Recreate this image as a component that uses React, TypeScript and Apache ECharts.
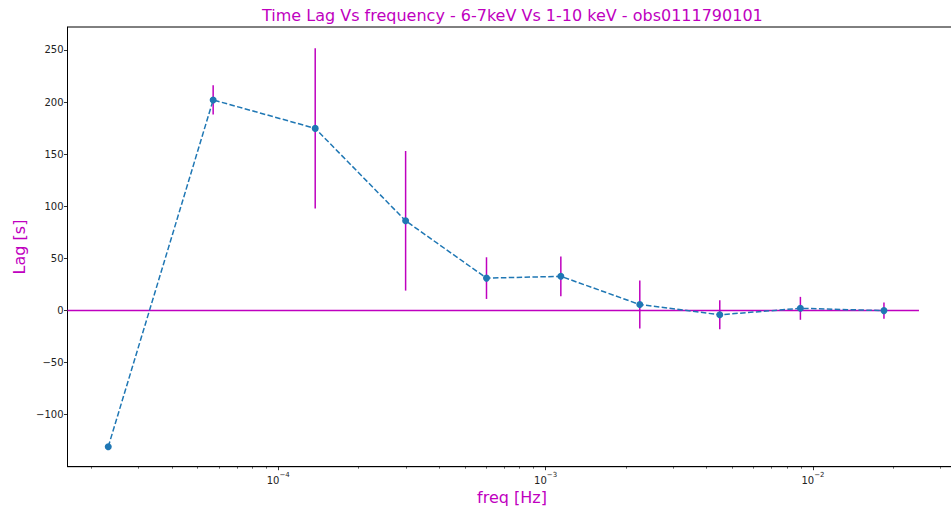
import React, { useEffect, useRef } from "react";
import * as echarts from "echarts";

const freqs = [2.314e-5, 5.71e-5, 1.375e-4, 2.995e-4, 6.01e-4, 1.14e-3, 2.25e-3, 4.48e-3, 8.97e-3, 1.842e-2];
const lags = [-130.8, 202, 174.7, 86, 31, 32.7, 5.6, -4.2, 2, -0.2];
const errs = [0, 14, 77, 67, 20, 19, 23, 14, 11, 7.7];
const majorXTicks = [1e-4, 1e-3, 1e-2];
const minorXTicks = [
  2e-5, 3e-5, 4e-5, 5e-5, 6e-5, 7e-5, 8e-5, 9e-5,
  2e-4, 3e-4, 4e-4, 5e-4, 6e-4, 7e-4, 8e-4, 9e-4,
  2e-3, 3e-3, 4e-3, 5e-3, 6e-3, 7e-3, 8e-3, 9e-3,
  2e-2, 3e-2,
];
const yTicks = [-100, -50, 0, 50, 100, 150, 200, 250];
const zeroLine = [[1.629e-5, 0], [0.0249, 0]];
const xMin = 1.629e-5;
const xMax = 0.0347;
const yMin = -150;
const yMax = 272;

const MAG = "#bf00bf";
const BLUE = "#1f77b4";
const FONT = "DejaVu Sans";

export default function App() {
  const ref = useRef<HTMLDivElement>(null);
  useEffect(() => {
    if (!ref.current) return;
    const chart = echarts.init(ref.current, null, { renderer: "svg" });
    const sup = (v: number) => {
      const e = Math.round(Math.log10(v));
      return "{b|10}{s|\u2212" + Math.abs(e) + "}";
    };
    chart.setOption({
      animation: false,
      backgroundColor: "#ffffff",
      grid: {
        left: 67.5,
        right: 2.5,
        top: 27,
        bottom: 43.3,
        show: true,
        borderColor: "#000",
        borderWidth: 1,
        backgroundColor: "transparent",
      },
      xAxis: [
        {
          type: "log",
          logBase: 10,
          min: xMin,
          max: xMax,
          position: "bottom",
          axisLine: { show: true, onZero: false, lineStyle: { color: "#000", width: 1 } },
          axisTick: { show: true, length: 3.5, customValues: majorXTicks, lineStyle: { color: "#000", width: 0.8 } },
          axisLabel: {
            show: true,
            customValues: majorXTicks,
            margin: 5,
            formatter: (v: number) => sup(v),
            rich: {
              b: { fontFamily: FONT, fontSize: 10, color: "#222", lineHeight: 14, verticalAlign: "bottom" },
              s: { fontFamily: FONT, fontSize: 7, color: "#222", lineHeight: 14, verticalAlign: "top", padding: [0, 0, 4, 0] },
            },
          },
          splitLine: { show: false },
          minorTick: { show: false },
        },
        {
          type: "log",
          logBase: 10,
          min: xMin,
          max: xMax,
          position: "bottom",
          axisLine: { show: false, onZero: false },
          axisTick: { show: true, length: 2, customValues: minorXTicks, lineStyle: { color: "#000", width: 0.6 } },
          axisLabel: { show: false },
          splitLine: { show: false },
        },
      ],
      yAxis: {
        type: "value",
        min: yMin,
        max: yMax,
        interval: 50,
        axisLine: { show: true, onZero: false, lineStyle: { color: "#000", width: 1 } },
        axisTick: { show: true, length: 3.5, customValues: yTicks, lineStyle: { color: "#000", width: 0.8 } },
        axisLabel: {
          show: true,
          customValues: yTicks,
          margin: 4,
          fontFamily: FONT,
          fontSize: 10,
          color: "#222",
          formatter: (v: number) => (v < 0 ? "\u2212" + Math.abs(v) : String(v)),
        },
        splitLine: { show: false },
      },
      graphic: [
        {
          type: "text",
          x: 512.4,
          y: 15,
          style: {
            text: "Time Lag Vs frequency - 6-7keV Vs 1-10 keV - obs0111790101",
            fontFamily: FONT,
            fontSize: 16,
            fill: MAG,
            textAlign: "center",
            textVerticalAlign: "middle",
          },
        },
        {
          type: "text",
          x: 512,
          y: 497,
          style: {
            text: "freq [Hz]",
            fontFamily: FONT,
            fontSize: 16,
            fill: MAG,
            textAlign: "center",
            textVerticalAlign: "middle",
          },
        },
        {
          type: "text",
          x: 19.5,
          y: 247,
          rotation: Math.PI / 2,
          style: {
            text: "Lag [s]",
            fontFamily: FONT,
            fontSize: 16,
            fill: MAG,
            textAlign: "center",
            textVerticalAlign: "middle",
          },
        },
      ],
      series: [
        {
          type: "line",
          xAxisIndex: 0,
          data: zeroLine,
          symbol: "none",
          lineStyle: { color: MAG, width: 1.5 },
          z: 1,
          silent: true,
        },
        {
          type: "custom",
          xAxisIndex: 0,
          data: freqs.map((f, i) => [f, lags[i], errs[i]]),
          z: 2,
          renderItem: (params: any, api: any) => {
            const x = api.value(0);
            const y = api.value(1);
            const e = api.value(2);
            const p1 = api.coord([x, y - e]);
            const p2 = api.coord([x, y + e]);
            return {
              type: "line",
              shape: { x1: p1[0], y1: p1[1], x2: p2[0], y2: p2[1] },
              style: { stroke: MAG, lineWidth: 1.5 },
            };
          },
        },
        {
          type: "line",
          xAxisIndex: 0,
          data: freqs.map((f, i) => [f, lags[i]]),
          symbol: "circle",
          symbolSize: 7,
          itemStyle: { color: BLUE },
          lineStyle: { color: BLUE, width: 1.5, type: [5.5, 2.4] },
          z: 3,
        },
      ],
    });
    return () => chart.dispose();
  }, []);
  return (
    <div
      style={{ position: "absolute", left: 0, top: 0, width: 951, height: 510, overflow: "hidden" }}
    >
      <div ref={ref} style={{ width: 960, height: 510 }} />
    </div>
  );
}
